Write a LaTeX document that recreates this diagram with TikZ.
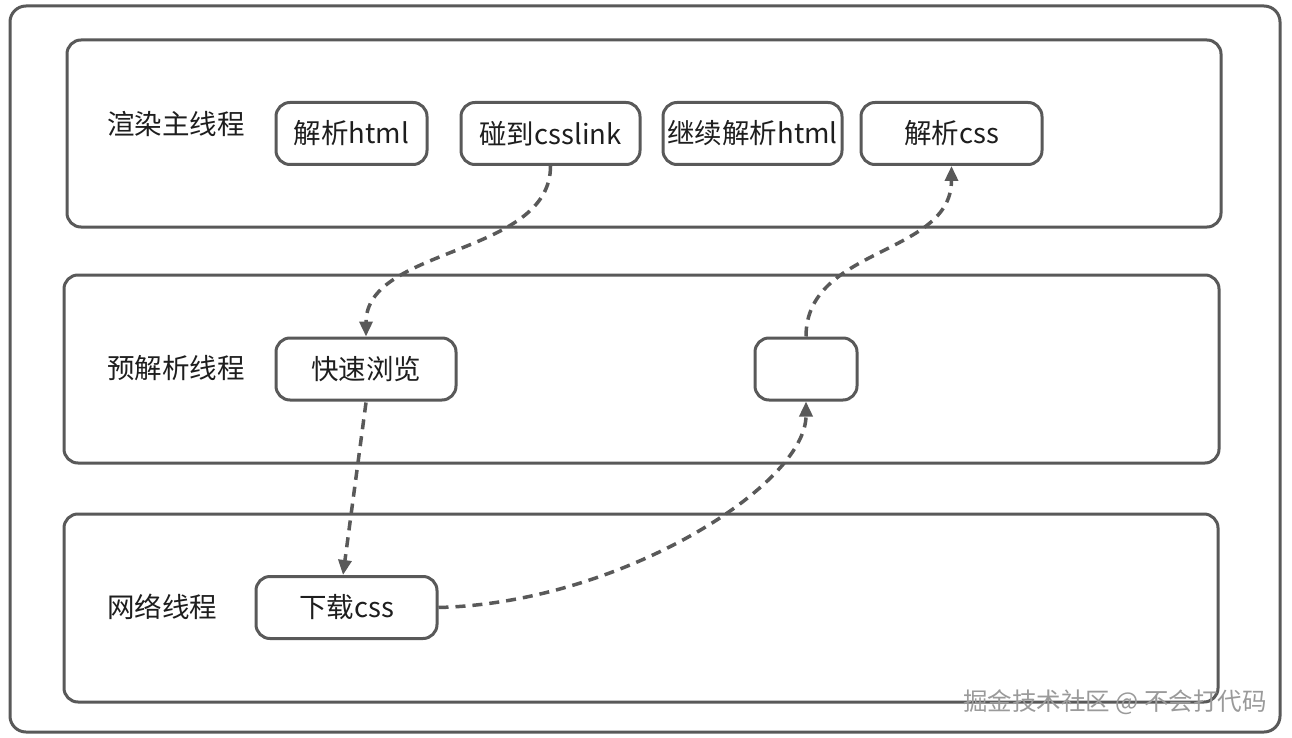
\documentclass[tikz,border=0pt]{standalone}
\usepackage{fontspec}
\setmainfont{Noto Sans CJK SC}
\usetikzlibrary{arrows.meta}
\definecolor{ln}{HTML}{595959}
\definecolor{tx}{HTML}{1E1E1E}
\definecolor{wm}{HTML}{9A9A9A}
\begin{document}
\begin{tikzpicture}[x=1pt,y=-1pt,
  frame/.style={draw=ln, line width=3pt, rounded corners=16pt},
  lane/.style={draw=ln, line width=3pt, rounded corners=14pt},
  box/.style={draw=ln, line width=3pt, rounded corners=14pt, minimum height=62pt,
    text=tx, font=\fontsize{27.5}{32}\selectfont, inner sep=0pt, fill=white},
  lbl/.style={anchor=west, text=tx, font=\fontsize{27.5}{32}\selectfont, inner sep=0pt},
  conn/.style={draw=ln, line width=3.5pt, dash pattern=on 10pt off 7pt,
    -{Triangle[length=15pt,width=13pt]}}
]
\useasboundingbox (0,0) rectangle (1292,738);
\fill[white] (0,0) rectangle (1292,738);
% outer frame
\draw[frame] (10,6) rectangle (1280,732);
% lanes
\draw[lane] (67,40) rectangle (1221,227);
\draw[lane] (64,275) rectangle (1219,463);
\draw[lane] (64,514) rectangle (1218,702);
% lane labels
\node[lbl] (l1) at (107,124) {渲染主线程};
\node[lbl] (l2) at (107,368) {预解析线程};
\node[lbl] (l3) at (107,607) {网络线程};
% top row
\node[box, minimum width=151pt] (a) at (351.5,133.5) {解析html};
\node[box, minimum width=179pt] (b) at (550.5,133.5) {碰到csslink};
\node[box, minimum width=179pt] (c) at (752.5,133.5) {继续解析html};
\node[box, minimum width=181pt] (d) at (951.5,133.5) {解析css};
% middle row
\node[box, minimum width=180pt] (e) at (366,369) {快速浏览};
\node[box, minimum width=102pt] (f) at (806,369) {};
% bottom row
\node[box, minimum width=181pt] (g) at (346.5,607.5) {下载css};
% connectors
\draw[conn] (b.south) .. controls ([yshift=-90pt]b.south) and ([yshift=90pt]e.north) .. (e.north);
\draw[conn] ([yshift=-1pt]e.south) -- ([xshift=-3.5pt]g.north);
\draw[conn] (g.east) .. controls (620,603) and (806,485) .. (f.south);
\draw[conn] (f.north) .. controls ([yshift=90pt]f.north) and ([yshift=-90pt]d.south) .. (d.south);
% watermark
\node[text=wm, font=\fontsize{24.5}{28}\selectfont, inner sep=0pt] (wm) at (1115,702) {掘金技术社区 @ 不会打代码};
\end{tikzpicture}
\end{document}
